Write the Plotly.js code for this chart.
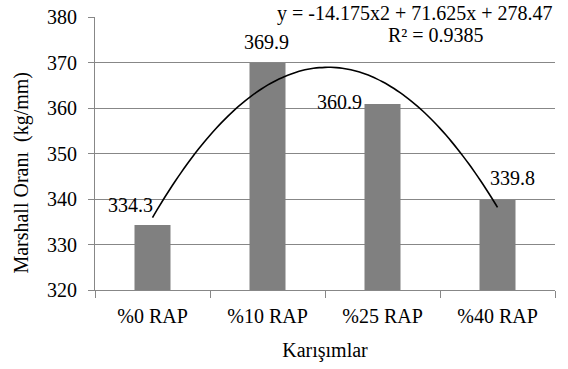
<!DOCTYPE html>
<html>
<head>
<meta charset="utf-8">
<script src="https://cdn.plot.ly/plotly-3.0.1.min.js"></script>
<style>
  html, body { margin: 0; padding: 0; background: #fff; }
  #chart { width: 568px; height: 369px; }
</style>
</head>
<body>
<div id="chart"></div>
<script>
// Marshall ratio of each mix
const categories = ['%0 RAP', '%10 RAP', '%25 RAP', '%40 RAP'];
const marshallValues = [334.3, 369.9, 360.9, 339.8];

// Second-order polynomial trendline: y = a*x^2 + b*x + c (x = 1..4)
const trendCoefficients = [-14.175, 71.625, 278.47];
const rSquared = 0.9385;

const yTickValues = [320, 330, 340, 350, 360, 370, 380];

// label placement (pixel offsets from the top of each bar)
const labelShiftX = [-22, -1, -43, 15];
const labelShiftY = [20, 21, 2, 22];

const FONT = 'Liberation Serif';
const GRID = '#878787';

// sample the trendline over the category positions
const trendX = [];
const trendY = [];
for (let i = 0; i <= 60; i++) {
  const x = 1 + i * 3 / 60;
  const [a, b, c] = trendCoefficients;
  trendX.push(x);
  trendY.push(a * x * x + b * x + c);
}

const bars = {
  type: 'bar',
  x: categories,
  y: marshallValues,
  marker: { color: '#808080', line: { width: 0 } },
  hoverinfo: 'skip',
  showlegend: false
};

const trend = {
  type: 'scatter',
  mode: 'lines',
  x: trendX,
  y: trendY,
  xaxis: 'x2',
  line: { color: '#000', width: 1.6, shape: 'spline' },
  hoverinfo: 'skip',
  showlegend: false
};

const valueLabels = marshallValues.map((v, i) => ({
  x: categories[i], y: v, xref: 'x', yref: 'y',
  text: v.toFixed(1),
  showarrow: false,
  xanchor: 'center', yanchor: 'middle',
  xshift: labelShiftX[i], yshift: labelShiftY[i],
  font: { family: FONT, size: 20, color: '#000' }
}));

const fmt = n => (n < 0 ? '-' : '') + Math.abs(n);
const [ca, cb, cc] = trendCoefficients;
const equationText = 'y = ' + fmt(ca) + 'x2 + ' + cb + 'x + ' + cc;

const layout = {
  width: 568,
  height: 369,
  margin: { l: 95, r: 13, t: 17, b: 79 },
  paper_bgcolor: '#fff',
  plot_bgcolor: '#fff',
  bargap: 0.687,
  font: { family: FONT, size: 20, color: '#000' },
  xaxis: {
    type: 'category',
    tickson: 'boundaries',
    ticks: 'outside',
    ticklen: 7,
    tickcolor: GRID,
    showline: true,
    linecolor: GRID,
    linewidth: 1,
    showgrid: false,
    zeroline: false,
    ticklabelstandoff: 8,
    tickfont: { family: FONT, size: 20, color: '#000' },
    title: {
      text: 'Karışımlar',
      font: { family: FONT, size: 20, color: '#000' },
      standoff: 16
    }
  },
  xaxis2: {
    overlaying: 'x',
    range: [0.5, 4.5],
    visible: false
  },
  yaxis: {
    range: [320, 380],
    tickvals: yTickValues,
    ticks: 'outside',
    ticklen: 6,
    tickcolor: GRID,
    showline: true,
    linecolor: GRID,
    linewidth: 1,
    showgrid: true,
    gridcolor: GRID,
    gridwidth: 1,
    zeroline: false,
    ticklabelstandoff: 7,
    tickfont: { family: FONT, size: 20, color: '#000' }
  },
  annotations: valueLabels.concat([
    {
      xref: 'paper', yref: 'paper',
      x: -0.1587, y: 0.43,
      text: 'Marshall Oranı  (kg/mm)',
      textangle: -90,
      showarrow: false,
      xanchor: 'center', yanchor: 'middle',
      font: { family: FONT, size: 20, color: '#000' }
    },
    {
      xref: 'paper', yref: 'paper',
      x: 0.6957, y: 1.012,
      text: equationText,
      showarrow: false,
      xanchor: 'center', yanchor: 'middle',
      font: { family: FONT, size: 20, color: '#000' }
    },
    {
      xref: 'paper', yref: 'paper',
      x: 0.7413, y: 0.935,
      text: 'R² = ' + rSquared,
      showarrow: false,
      xanchor: 'center', yanchor: 'middle',
      font: { family: FONT, size: 20, color: '#000' }
    }
  ])
};

Plotly.newPlot('chart', [bars, trend], layout, { staticPlot: true, displayModeBar: false });
</script>
</body>
</html>
